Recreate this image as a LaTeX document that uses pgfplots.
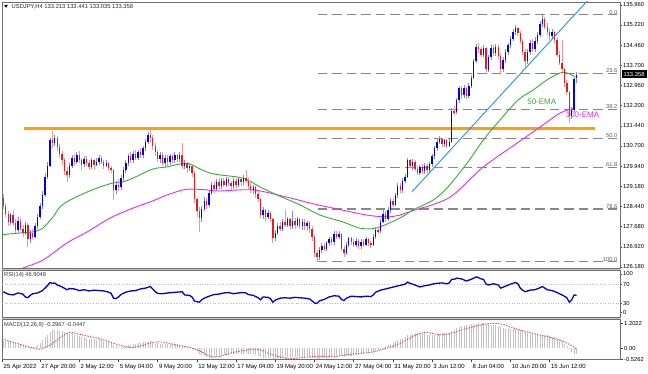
\documentclass[border=0pt]{standalone}
\usepackage{pgfplots}
\pgfplotsset{compat=1.18}
\usepackage{pgfplotstable}
\usepackage{fontspec}
\setmainfont{Liberation Sans}
\definecolor{upb}{RGB}{0,0,235}
\definecolor{upw}{RGB}{125,135,245}
\definecolor{dnb}{RGB}{235,25,25}
\definecolor{dnw}{RGB}{245,150,150}
\definecolor{emag}{RGB}{50,175,50}
\definecolor{emam}{RGB}{235,40,235}
\definecolor{orng}{RGB}{255,160,0}
\definecolor{tline}{RGB}{30,144,255}
\definecolor{fibc}{RGB}{135,135,135}
\definecolor{fibt}{RGB}{90,90,90}
\definecolor{frm}{RGB}{110,110,110}
\definecolor{rsic}{RGB}{0,0,215}
\definecolor{histc}{RGB}{195,195,195}
\definecolor{sigc}{RGB}{235,70,70}
\pgfplotstableread{
k o h l c
2 128.75 128.90 128.35 128.45
3 128.45 128.55 128.05 128.15
4 128.15 128.25 127.70 127.85
5 127.85 128.20 127.75 128.10
6 128.10 128.30 127.70 127.80
7 127.80 127.95 127.45 127.55
8 127.55 128.05 127.45 127.90
9 127.90 128.00 127.50 127.60
10 127.60 127.75 127.30 127.45
11 127.45 127.85 127.35 127.75
12 127.75 127.80 126.90 127.20
13 127.20 127.55 127.05 127.45
14 127.45 127.60 127.20 127.30
15 127.30 127.80 127.25 127.70
16 127.70 128.15 127.60 128.05
17 128.05 128.55 127.95 128.45
18 128.45 129.00 128.35 128.85
19 128.85 129.70 128.80 129.55
20 129.55 130.10 129.45 129.95
21 129.95 131.00 129.90 130.90
22 130.90 131.25 130.60 130.80
23 130.80 131.10 130.70 131.00
24 131.00 131.05 130.50 130.65
25 130.65 130.75 130.25 130.40
26 130.40 130.50 130.00 130.15
27 130.15 130.25 129.60 129.75
28 129.75 129.90 129.33 129.60
29 129.60 130.05 129.50 129.95
30 129.95 130.35 129.85 130.25
31 130.25 130.40 129.95 130.10
32 130.10 130.45 130.00 130.35
33 130.35 130.50 130.05 130.15
34 130.15 130.25 129.80 130.00
35 130.00 130.30 129.90 130.20
36 130.20 130.30 129.95 130.05
37 130.05 130.15 129.80 129.90
38 129.90 130.25 129.85 130.15
39 130.15 130.20 129.80 130.00
40 130.00 130.25 129.95 130.10
41 130.10 130.35 130.00 130.25
42 130.25 130.30 130.00 130.10
43 130.10 130.15 129.85 129.95
44 129.95 130.15 129.90 130.05
45 130.05 130.10 129.75 129.85
46 129.85 129.95 129.70 129.80
47 129.80 129.85 128.67 129.05
48 129.05 129.40 128.90 129.25
49 129.25 129.45 129.00 129.15
50 129.15 129.60 129.05 129.50
51 129.50 129.90 129.40 129.80
52 129.80 130.15 129.70 130.05
53 130.05 130.40 129.95 130.30
54 130.30 130.45 130.05 130.15
55 130.15 130.50 130.05 130.40
56 130.40 130.55 130.15 130.25
57 130.25 130.55 130.15 130.45
58 130.45 130.60 130.25 130.35
59 130.35 130.70 130.25 130.60
60 130.60 130.95 130.50 130.85
61 130.85 131.20 130.75 131.10
62 131.10 131.32 130.85 131.00
63 131.00 131.10 130.55 130.70
64 130.70 130.80 130.30 130.45
65 130.45 130.55 130.10 130.20
66 130.20 130.45 130.05 130.35
67 130.35 130.45 129.95 130.05
68 130.05 130.35 129.90 130.25
69 130.25 130.35 129.95 130.10
70 130.10 130.40 130.00 130.30
71 130.30 130.40 130.05 130.15
72 130.15 130.45 130.05 130.35
73 130.35 130.40 130.10 130.20
74 130.20 130.45 130.10 130.35
75 130.35 130.80 129.85 129.95
76 129.95 130.15 129.85 130.05
77 130.05 130.10 129.70 129.85
78 129.85 130.05 129.75 129.95
79 129.95 130.00 129.55 129.70
80 129.70 129.75 128.55 128.70
81 128.70 128.80 128.05 128.25
82 128.25 128.40 127.48 128.00
83 128.00 128.45 127.85 128.35
84 128.35 128.80 128.25 128.65
85 128.65 128.75 128.35 128.50
86 128.50 129.05 128.40 128.95
87 128.95 129.35 128.85 129.25
88 129.25 129.40 128.95 129.10
89 129.10 129.45 129.00 129.35
90 129.35 129.50 129.10 129.20
91 129.20 129.50 129.10 129.40
92 129.40 129.50 129.15 129.25
93 129.25 129.55 129.15 129.45
94 129.45 129.55 129.20 129.30
95 129.30 129.40 129.05 129.20
96 129.20 129.50 129.10 129.40
97 129.40 129.50 129.10 129.25
98 129.25 129.55 129.15 129.45
99 129.45 129.55 129.20 129.35
100 129.35 129.60 129.25 129.50
101 129.50 129.80 129.30 129.40
102 129.40 129.50 129.10 129.20
103 129.20 129.30 128.95 129.05
104 129.05 129.25 128.90 129.15
105 129.15 129.20 128.75 128.90
106 128.90 129.00 128.60 128.70
107 128.70 128.75 128.00 128.10
108 128.10 128.40 127.95 128.30
109 128.30 128.35 127.90 128.05
110 128.05 128.30 127.95 128.20
111 128.20 128.25 127.85 127.95
112 127.95 128.00 127.07 127.25
113 127.25 127.55 127.15 127.45
114 127.45 127.80 127.35 127.70
115 127.70 127.85 127.50 127.60
116 127.60 127.95 127.50 127.85
117 127.85 128.30 127.65 127.75
118 127.75 128.05 127.65 127.95
119 127.95 128.00 127.60 127.70
120 127.70 128.25 127.60 127.90
121 127.90 128.00 127.60 127.75
122 127.75 128.05 127.65 127.95
123 127.95 128.00 127.60 127.70
124 127.70 127.95 127.55 127.85
125 127.85 127.95 127.55 127.70
126 127.70 127.90 127.55 127.80
127 127.80 127.90 127.45 127.60
128 127.60 127.70 127.15 127.30
129 127.30 127.35 126.55 126.70
130 126.70 126.80 126.36 126.55
131 126.55 126.90 126.45 126.80
132 126.80 127.05 126.70 126.95
133 126.95 127.05 126.75 126.85
134 126.85 127.15 126.75 127.05
135 127.05 127.30 126.95 127.20
136 127.20 127.30 127.00 127.10
137 127.10 127.50 127.00 127.40
138 127.40 127.50 127.20 127.30
139 127.30 127.50 127.20 127.40
140 127.40 127.45 126.75 126.85
141 126.85 126.95 126.55 126.70
142 126.70 127.10 126.60 127.00
143 127.00 127.30 126.90 127.25
144 127.25 127.30 127.00 127.10
145 127.10 127.20 126.90 127.00
146 127.00 127.25 126.90 127.15
147 127.15 127.20 126.85 126.95
148 126.95 127.20 126.85 127.10
149 127.10 127.20 126.90 127.00
150 127.00 127.30 126.95 127.20
151 127.20 127.25 126.95 127.05
152 127.05 127.15 126.88 127.00
153 127.00 127.40 126.95 127.30
154 127.30 127.65 127.20 127.55
155 127.55 127.70 127.40 127.50
156 127.50 127.95 127.45 127.85
157 127.85 128.30 127.80 128.15
158 128.15 128.25 127.85 127.95
159 127.95 128.40 127.90 128.30
160 128.30 128.75 128.20 128.65
161 128.65 128.75 128.40 128.50
162 128.50 128.95 128.45 128.85
163 128.85 129.30 128.75 129.20
164 129.20 129.30 128.95 129.05
165 129.05 129.50 128.95 129.40
166 129.40 129.65 129.30 129.55
167 129.55 130.25 129.50 130.15
168 130.15 130.20 129.85 129.95
169 129.95 130.20 129.80 130.10
170 130.10 130.15 129.75 129.85
171 129.85 129.95 129.60 129.70
172 129.70 130.00 129.60 129.90
173 129.90 130.00 129.65 129.75
174 129.75 130.05 129.65 129.95
175 129.95 130.00 129.70 129.80
176 129.80 130.10 129.70 130.00
177 130.00 130.40 129.90 130.30
178 130.30 130.70 130.20 130.60
179 130.60 131.00 130.50 130.85
180 130.85 131.05 130.75 130.95
181 130.95 131.00 130.65 130.75
182 130.75 130.95 130.65 130.90
183 130.90 130.95 130.60 130.70
184 130.70 130.95 130.65 130.85
185 130.85 132.10 130.80 132.00
186 132.00 132.20 131.85 131.95
187 131.95 132.50 131.90 132.40
188 132.40 132.95 132.30 132.85
189 132.85 132.95 132.45 132.60
190 132.60 132.97 132.50 132.85
191 132.85 132.90 132.45 132.55
192 132.55 133.05 132.50 132.95
193 132.95 133.35 132.85 133.25
194 133.25 133.95 133.20 133.85
195 133.85 134.50 133.80 134.40
196 134.40 134.55 134.15 134.30
197 134.30 134.40 134.00 134.10
198 134.10 134.45 134.00 134.35
199 134.35 134.40 133.45 133.55
200 133.55 134.10 133.45 134.00
201 134.00 134.50 133.90 134.35
202 134.35 134.45 134.05 134.15
203 134.15 134.50 134.05 134.40
204 134.40 134.45 133.95 134.05
205 134.05 134.15 133.42 133.55
206 133.55 134.00 133.45 133.90
207 133.90 134.30 133.80 134.20
208 134.20 134.55 134.10 134.45
209 134.45 134.80 134.35 134.70
210 134.70 135.05 134.60 134.95
211 134.95 135.21 134.85 135.10
212 135.10 135.15 134.80 134.90
213 134.90 135.00 134.50 134.60
214 134.60 134.70 134.10 134.20
215 134.20 134.30 133.64 133.85
216 133.85 134.30 133.75 134.20
217 134.20 134.65 134.10 134.55
218 134.55 134.70 134.20 134.30
219 134.30 134.75 134.20 134.60
220 134.60 134.95 134.50 134.85
221 134.85 135.35 134.75 135.25
222 135.25 135.59 135.15 135.45
223 135.45 135.50 135.05 135.15
224 135.15 135.30 134.85 134.95
225 134.95 135.05 134.65 134.80
226 134.80 135.05 134.70 134.95
227 134.95 135.00 134.55 134.65
228 134.65 134.75 134.00 134.10
229 134.10 134.25 133.70 133.80
230 133.80 134.65 133.45 133.55
231 133.55 133.60 132.90 133.05
232 133.05 133.15 132.60 132.70
233 132.70 132.75 131.55 131.80
234 131.80 132.15 131.70 132.05
235 132.05 133.30 131.95 133.213
236 133.213 133.441 133.035 133.358
}\candles
\begin{document}
\begin{tikzpicture}
\pgfplotsset{
  mt/.style={scale only axis, width=618pt, xmin=1.469, xmax=253.7,
    axis line style={draw=frm, line width=0.8pt},
    tick align=outside, major tick length=2pt,
    tick style={draw=black!75, line width=0.4pt},
    ytick pos=right, xtick pos=bottom,
    yticklabel style={font=\fontsize{5.8}{6}\selectfont, anchor=west, inner sep=0pt, xshift=1pt},
    /pgf/number format/assume math mode=true,
  }
}
\fill[gray!45] (2pt,104pt) rectangle (620pt,106pt);
\fill[gray!45] (2pt,54.5pt) rectangle (620pt,56.4pt);
% ---------------- main price panel
\begin{axis}[mt, at={(2pt,106pt)}, anchor=south west, height=266pt,
  ymin=126.132, ymax=136.072, xtick=\empty,
  ytick={126.18,126.92,127.68,128.44,129.18,129.94,130.70,131.44,132.20,132.96,133.70,134.46,135.22,135.96},
  yticklabel style={/pgf/number format/fixed, /pgf/number format/fixed zerofill, /pgf/number format/precision=3},
]
% Fibonacci levels
\addplot[fibc, line width=1.2pt, dash pattern=on 9.5pt off 5pt] coordinates {(130.4,135.59) (253.7,135.59)};
\addplot[fibc, line width=1.2pt, dash pattern=on 9.5pt off 5pt] coordinates {(130.4,133.412) (253.7,133.412)};
\addplot[fibc, line width=1.2pt, dash pattern=on 9.5pt off 5pt] coordinates {(130.4,132.064) (253.7,132.064)};
\addplot[fibc, line width=1.2pt, dash pattern=on 9.5pt off 5pt] coordinates {(130.4,130.975) (253.7,130.975)};
\addplot[fibc, line width=1.2pt, dash pattern=on 9.5pt off 5pt] coordinates {(130.4,129.886) (253.7,129.886)};
\addplot[fibc, line width=1.2pt, dash pattern=on 9.5pt off 5pt] coordinates {(130.4,128.335) (253.7,128.335)};
\addplot[fibc, line width=1.2pt, dash pattern=on 9.5pt off 5pt] coordinates {(130.4,126.36) (253.7,126.36)};
% horizontal resistance
\addplot[orng, line width=2.6pt] coordinates {(10.45,131.35) (243.5,131.35)};
% 100-EMA
\addplot[emam, line width=0.9pt, smooth] coordinates {(4,125.9) (10,126.13) (18.2,126.43) (28,127.07) (36.2,127.48) (45.6,128.0) (54.9,128.37) (61.9,128.6) (68.8,128.86) (75.3,129.05) (79.4,129.08) (85.1,129.05) (90.4,129.01) (103.9,129.05) (117.8,128.78) (127.2,128.56) (136.6,128.37) (150.4,128.11) (158.6,128.04) (163.9,128.11) (166.8,128.2) (172.1,128.36) (177.4,128.5) (185.6,128.86) (197.8,129.9) (211.7,130.8) (221.1,131.4) (229.2,131.92) (235.4,132.11)};
% 50-EMA
\addplot[emag, line width=0.9pt, smooth] coordinates {(0.7,127.37) (8.8,127.44) (14.1,127.48) (18.2,127.63) (22.3,128.04) (25.1,128.41) (29.2,128.67) (36.2,128.97) (41.5,129.16) (46.8,129.31) (50.9,129.35) (54.9,129.49) (63.1,129.83) (68.8,129.91) (74.1,130.02) (78.2,130.02) (82.3,129.83) (86.4,129.68) (90.4,129.61) (99.8,129.49) (106.8,129.16) (113.7,128.86) (123.1,128.49) (131.3,128.11) (140.7,127.85) (147.6,127.62) (154.5,127.63) (163.9,128.0) (169.2,128.3) (177.4,128.67) (183.1,129.12) (191.3,130.05) (197.8,130.9) (204.7,131.66) (212.1,132.41) (218.2,132.78) (223.9,133.16) (229.2,133.42) (232.1,133.42) (235.4,133.27)};
\node[anchor=west, inner sep=0pt, text=emag, font=\fontsize{8}{9}\selectfont] at (axis cs:215.8,132.35) {50-EMA};
\node[anchor=west, inner sep=0pt, text=emam, font=\fontsize{8}{9}\selectfont] at (axis cs:231.5,131.87) {100-EMA};
% candles: wicks
\addplot[draw=none, mark=none, forget plot, restrict expr to domain={\thisrow{c}-\thisrow{o}}{0:100},
  error bars/.cd, y dir=both, y explicit, error mark=none, error bar style={draw=upw, line width=0.7pt}]
  table[x=k, y expr={(\thisrow{h}+\thisrow{l})/2}, y error expr={(\thisrow{h}-\thisrow{l})/2}] {\candles};
\addplot[draw=none, mark=none, forget plot, restrict expr to domain={\thisrow{o}-\thisrow{c}}{0.0001:100},
  error bars/.cd, y dir=both, y explicit, error mark=none, error bar style={draw=dnw, line width=0.7pt}]
  table[x=k, y expr={(\thisrow{h}+\thisrow{l})/2}, y error expr={(\thisrow{h}-\thisrow{l})/2}] {\candles};
% candles: bodies
\addplot[draw=none, mark=none, forget plot, restrict expr to domain={\thisrow{c}-\thisrow{o}}{0:100},
  error bars/.cd, y dir=both, y explicit, error mark=none, error bar style={draw=upb, line width=1.4pt}]
  table[x=k, y expr={(\thisrow{o}+\thisrow{c})/2}, y error expr={(\thisrow{c}-\thisrow{o})/2}] {\candles};
\addplot[draw=none, mark=none, forget plot, restrict expr to domain={\thisrow{o}-\thisrow{c}}{0.0001:100},
  error bars/.cd, y dir=both, y explicit, error mark=none, error bar style={draw=dnb, line width=1.4pt}]
  table[x=k, y expr={(\thisrow{o}+\thisrow{c})/2}, y error expr={(\thisrow{o}-\thisrow{c})/2}] {\candles};
% rising trend line
\addplot[tline, line width=0.9pt] coordinates {(168.8,128.98) (241,136.18)};
% fib labels
\node[anchor=south east, inner sep=0.6pt, text=fibt, font=\fontsize{5.7}{6}\selectfont] at (axis cs:252.9,135.59) {0.0};
\node[anchor=south east, inner sep=0.6pt, text=fibt, font=\fontsize{5.7}{6}\selectfont] at (axis cs:252.9,133.412) {23.6};
\node[anchor=south east, inner sep=0.6pt, text=fibt, font=\fontsize{5.7}{6}\selectfont] at (axis cs:252.9,132.064) {38.2};
\node[anchor=south east, inner sep=0.6pt, text=fibt, font=\fontsize{5.7}{6}\selectfont] at (axis cs:252.9,130.975) {50.0};
\node[anchor=south east, inner sep=0.6pt, text=fibt, font=\fontsize{5.7}{6}\selectfont] at (axis cs:252.9,129.886) {61.8};
\node[anchor=south east, inner sep=0.6pt, text=fibt, font=\fontsize{5.7}{6}\selectfont] at (axis cs:252.9,128.335) {78.6};
\node[anchor=south east, inner sep=0.6pt, text=fibt, font=\fontsize{5.7}{6}\selectfont] at (axis cs:252.9,126.36) {100.0};
\end{axis}
% ---------------- RSI panel
\begin{axis}[mt, at={(2pt,56.4pt)}, anchor=south west, height=47.6pt, ymin=0, ymax=100, xtick=\empty,
  ytick={10.3,30,70,91.8}, yticklabels={0,30,70,100}]
\addplot[gray!55, dotted, line width=0.6pt] coordinates {(1.469,70) (253.7,70)};
\addplot[gray!55, dotted, line width=0.6pt] coordinates {(1.469,30) (253.7,30)};
\addplot[rsic, line width=1.3pt] coordinates {(2,54.3) (4,49.3) (6,47.6) (8,51.8) (10,49.3) (11,43.4) (12,41.7) (13,46.7) (14,50.1) (16,51.8) (18,56.8) (19,61.9) (20,66.9) (21,73.7) (22,72) (23,72.8) (24,68.6) (26,64.4) (28,58.5) (29,61) (31,60.2) (33,56.8) (35,58.5) (37,56) (39,57.7) (41,56.8) (43,56) (45,53.5) (46,50.9) (47,40.8) (48,40) (49,43.4) (50,48.4) (52,53.5) (54,56) (56,56.8) (58,60.2) (60,61.9) (62,65.3) (63,60.2) (64,54.3) (65,50.9) (67,50.1) (69,51.8) (71,52.6) (73,53.5) (75,54.3) (76,47.6) (78,46.7) (79,43.4) (80,35) (81,33.3) (82,32.4) (83,37.5) (84,40.8) (86,45) (88,48.4) (90,49.3) (92,51.8) (94,52.6) (96,50.1) (98,51.8) (100,52.6) (101,51.8) (102,48.4) (104,46.7) (106,41.7) (107,37.5) (108,43.4) (110,42.5) (111,40) (112,32.4) (113,36.6) (115,40.8) (117,41.7) (119,40.8) (121,42.5) (123,41.7) (125,40.8) (127,39.2) (128,35) (129,30.7) (130,29.9) (131,35) (133,38.3) (135,43.4) (137,45.9) (139,45) (140,38.3) (141,35.8) (142,40.8) (144,45) (146,44.2) (148,43.4) (150,45) (152,44.2) (153,47.6) (154,53.5) (156,57.7) (158,60.2) (160,62.7) (162,65.3) (164,67.8) (166,70.3) (167,74.5) (168,72) (170,68.6) (172,64.4) (174,66.9) (176,68.6) (177,70.3) (179,72) (181,72.8) (183,71.1) (184,72.8) (185,80.4) (186,80.4) (187,82.9) (189,81.3) (191,77) (193,80.4) (195,85.5) (196,83.8) (197,81.3) (198,80.4) (199,70.3) (200,68.6) (202,71.1) (204,68.6) (205,61.9) (207,66.1) (209,70.3) (211,73.7) (212,71.1) (213,61.9) (214,57.7) (215,54.3) (217,57.7) (219,58.5) (221,62.7) (222,65.3) (223,61.9) (224,58.5) (226,56.8) (228,52.6) (229,50.1) (230,47.6) (231,45) (232,41.7) (233,32.4) (234,37.5) (235,47.6) (236,46.9)};
\node[anchor=north west, inner sep=0pt, xshift=2pt, yshift=-2pt, font=\fontsize{5.7}{6}\selectfont, text=black!80] at (rel axis cs:0,1) {RSI(14) 46.9048};
\end{axis}
% ---------------- MACD panel
\begin{axis}[mt, at={(2pt,14.5pt)}, anchor=south west, height=40pt, ymin=-0.538, ymax=1.385,
  ytick={-0.5262,0,1.2022}, yticklabels={-0.5262,0.00,1.2022},
  xtick={1.6,17,33,49,65,81,97,113,129,145,161,177,193,209,225},
  xticklabels={25 Apr 2022,27 Apr 20:00,2 May 12:00,5 May 04:00,9 May 20:00,12 May 12:00,17 May 04:00,19 May 20:00,24 May 12:00,27 May 04:00,31 May 20:00,3 Jun 12:00,8 Jun 04:00,10 Jun 20:00,15 Jun 12:00},
  xticklabel style={anchor=north west, inner sep=0pt, xshift=1.2pt, yshift=-2pt, font=\fontsize{6}{7}\selectfont},
  major tick length=3pt]
\addplot[histc, ycomb, line width=0.6pt, mark=none] coordinates {(2,0.36)(3,0.35)(4,0.34)(5,0.33)(6,0.30)(7,0.25)(8,0.22)(9,0.18)(10,0.14)(11,0.12)(12,0.05)(13,0.03)(14,0.04)(15,0.08)(16,0.15)(17,0.25)(18,0.38)(19,0.52)(20,0.66)(21,0.80)(22,0.86)(23,0.88)(24,0.87)(25,0.85)(26,0.82)(27,0.78)(28,0.72)(29,0.70)(30,0.67)(31,0.64)(32,0.62)(33,0.58)(34,0.55)(35,0.53)(36,0.50)(37,0.47)(38,0.45)(39,0.43)(40,0.41)(41,0.40)(42,0.38)(43,0.35)(44,0.32)(45,0.28)(46,0.24)(47,0.15)(48,0.10)(49,0.07)(50,0.06)(51,0.08)(52,0.12)(53,0.16)(54,0.18)(55,0.21)(56,0.23)(57,0.25)(58,0.26)(59,0.28)(60,0.30)(61,0.32)(62,0.33)(63,0.30)(64,0.27)(65,0.24)(66,0.23)(67,0.21)(68,0.21)(69,0.20)(70,0.21)(71,0.20)(72,0.20)(73,0.19)(74,0.18)(75,0.15)(76,0.12)(77,0.10)(78,0.07)(79,0.03)(80,-0.05)(81,-0.15)(82,-0.25)(83,-0.32)(84,-0.38)(85,-0.42)(86,-0.45)(87,-0.45)(88,-0.44)(89,-0.42)(90,-0.40)(91,-0.37)(92,-0.34)(93,-0.32)(94,-0.30)(95,-0.29)(96,-0.28)(97,-0.27)(98,-0.26)(99,-0.26)(100,-0.25)(101,-0.24)(102,-0.25)(103,-0.27)(104,-0.29)(105,-0.32)(106,-0.36)(107,-0.42)(108,-0.45)(109,-0.47)(110,-0.48)(111,-0.49)(112,-0.52)(113,-0.52)(114,-0.51)(115,-0.50)(116,-0.49)(117,-0.47)(118,-0.46)(119,-0.45)(120,-0.44)(121,-0.43)(122,-0.42)(123,-0.42)(124,-0.41)(125,-0.41)(126,-0.41)(127,-0.42)(128,-0.44)(129,-0.47)(130,-0.50)(131,-0.50)(132,-0.49)(133,-0.47)(134,-0.45)(135,-0.43)(136,-0.41)(137,-0.39)(138,-0.37)(139,-0.36)(140,-0.38)(141,-0.40)(142,-0.39)(143,-0.37)(144,-0.35)(145,-0.33)(146,-0.31)(147,-0.30)(148,-0.28)(149,-0.26)(150,-0.24)(151,-0.22)(152,-0.20)(153,-0.16)(154,-0.12)(155,-0.08)(156,-0.03)(157,0.03)(158,0.09)(159,0.15)(160,0.22)(161,0.28)(162,0.34)(163,0.40)(164,0.45)(165,0.50)(166,0.55)(167,0.62)(168,0.66)(169,0.70)(170,0.72)(171,0.73)(172,0.72)(173,0.70)(174,0.68)(175,0.66)(176,0.65)(177,0.65)(178,0.66)(179,0.68)(180,0.70)(181,0.72)(182,0.73)(183,0.74)(184,0.75)(185,0.84)(186,0.90)(187,0.96)(188,1.02)(189,1.06)(190,1.09)(191,1.10)(192,1.12)(193,1.15)(194,1.17)(195,1.19)(196,1.20)(197,1.20)(198,1.20)(199,1.19)(200,1.16)(201,1.14)(202,1.12)(203,1.10)(204,1.07)(205,1.02)(206,0.98)(207,0.95)(208,0.94)(209,0.93)(210,0.93)(211,0.93)(212,0.92)(213,0.89)(214,0.85)(215,0.79)(216,0.74)(217,0.71)(218,0.68)(219,0.65)(220,0.64)(221,0.64)(222,0.65)(223,0.64)(224,0.62)(225,0.59)(226,0.56)(227,0.52)(228,0.46)(229,0.40)(230,0.34)(231,0.22)(232,0.10)(233,-0.05)(234,-0.18)(235,-0.26)(236,-0.2967)};
\addplot[sigc, line width=0.9pt, dash pattern=on 1.4pt off 1.3pt, smooth] coordinates {(1.5,0.45) (5,0.32) (9,0.19) (13,0.05) (17,-0.04) (21,0.15) (25,0.5) (29,0.76) (33,0.68) (37,0.57) (41.5,0.46) (45,0.32) (49.6,0.15) (53.7,0.04) (57.8,0.11) (63,0.29) (67,0.3) (73,0.15) (78,0.04) (82,-0.12) (86,-0.36) (89,-0.43) (92,-0.33) (95,-0.22) (100,-0.1) (104,-0.04) (107,-0.08) (111,-0.28) (115,-0.42) (118,-0.5) (122,-0.47) (127,-0.41) (132,-0.39) (137,-0.4) (141,-0.33) (144,-0.29) (148,-0.24) (153,-0.18) (156,-0.08) (159,0.03) (162,0.15) (165,0.3) (168,0.5) (171,0.67) (174,0.77) (177,0.72) (180,0.65) (183,0.68) (186,0.76) (189,0.88) (192,0.98) (196,1.1) (199.5,1.18) (203.5,1.2) (207,1.12) (210,0.99) (213,0.88) (217,0.75) (220,0.66) (224,0.56) (229,0.4) (233,0.19) (235,0.05) (236.2,-0.045)};
\node[anchor=north west, inner sep=0pt, xshift=2pt, yshift=-2.2pt, font=\fontsize{5.7}{6}\selectfont, text=black!80] at (rel axis cs:0,1) {MACD(12,26,9) -0.2967 -0.0447};
\end{axis}
% title and current price box
\fill[black] (4pt,369.2pt) -- (8pt,369.2pt) -- (6pt,366.2pt) -- cycle;
\node[anchor=west, inner sep=0pt, font=\fontsize{5.8}{7}\selectfont, text=black!85] at (11.5pt,367.3pt) {USDJPY,H4 133.213 133.441 133.035 133.358};
\fill[black] (621.5pt,296.3pt) rectangle (646.5pt,303.5pt);
\node[inner sep=0pt, text=white, font=\fontsize{5.8}{6}\selectfont] at (634pt,299.9pt) {133.358};
\pgfresetboundingbox
\path[use as bounding box] (0pt,0pt) rectangle (648pt,374pt);
\end{tikzpicture}
\end{document}
